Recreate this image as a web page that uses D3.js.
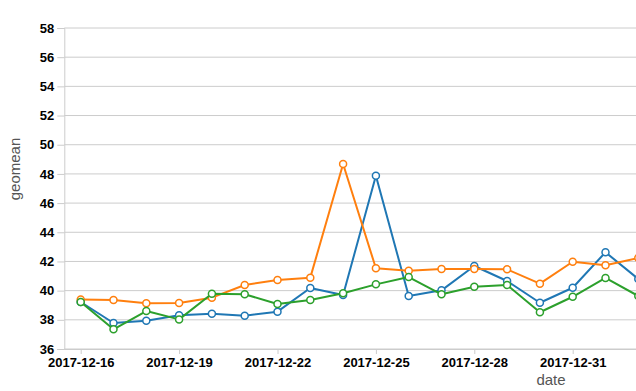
<!DOCTYPE html>
<html>
<head>
<meta charset="utf-8">
<script src="https://cdn.jsdelivr.net/npm/d3@7"></script>
<style>
  html, body { margin: 0; padding: 0; background: #fff; overflow: hidden; }
  svg { display: block; font-family: "Liberation Sans", Arial, sans-serif; }
</style>
</head>
<body>
<svg id="chart" width="636" height="391"></svg>
<script>
// ---- data ----
const dates = ["2017-12-16","2017-12-17","2017-12-18","2017-12-19","2017-12-20","2017-12-21",
  "2017-12-22","2017-12-23","2017-12-24","2017-12-25","2017-12-26","2017-12-27","2017-12-28",
  "2017-12-29","2017-12-30","2017-12-31","2018-01-01","2018-01-02"];
const blueValues   = [39.22, 37.78, 37.94, 38.31, 38.42, 38.28, 38.56, 40.18, 39.70, 47.88, 39.63, 40.02, 41.69, 40.66, 39.17, 40.20, 42.63, 40.80];
const orangeValues = [39.40, 39.36, 39.13, 39.15, 39.52, 40.39, 40.73, 40.89, 48.68, 41.53, 41.37, 41.48, 41.48, 41.46, 40.48, 41.98, 41.74, 42.24];
const greenValues  = [39.22, 37.35, 38.60, 38.03, 39.79, 39.75, 39.08, 39.36, 39.82, 40.43, 40.93, 39.75, 40.27, 40.39, 38.52, 39.58, 40.87, 39.63];
const seriesNames  = ["blue", "orange", "green"];
const seriesColors = ["#1f77b4", "#ff7f0e", "#2ca02c"];
const xTickLabels  = ["2017-12-16","2017-12-19","2017-12-22","2017-12-25","2017-12-28","2017-12-31"];
const yTicks       = [36, 38, 40, 42, 44, 46, 48, 50, 52, 54, 56, 58];
const xTitle = "date";
const yTitle = "geomean";

// ---- layout ----
const parse = d3.utcParse("%Y-%m-%d");
const fmt = d3.utcFormat("%Y-%m-%d");
const dayMs = 864e5;
const plotLeft = 64.3, plotTop = 28, plotBottom = 349, dayPx = 32.8;
const firstDate = parse(dates[0]);
const lastDate = parse(dates[dates.length - 1]);
const x = d3.scaleUtc()
  .domain([new Date(+firstDate - dayMs / 2), new Date(+lastDate + dayMs / 2)])
  .range([plotLeft, plotLeft + dayPx * dates.length]);
const y = d3.scaleLinear().domain([36, 58]).range([plotBottom, plotTop]);

const svg = d3.select("#chart");
const plotRight = 636;

// grid
svg.append("g").selectAll("line").data(yTicks).join("line")
  .attr("x1", plotLeft).attr("x2", plotRight)
  .attr("y1", d => y(d)).attr("y2", d => y(d))
  .attr("stroke", "#cccccc").attr("stroke-width", 1);

// y axis
const yAxis = svg.append("g").attr("transform", `translate(${plotLeft},0)`)
  .call(d3.axisLeft(y).tickValues(yTicks).tickSize(7).tickPadding(3));
yAxis.select(".domain").attr("stroke", "#cccccc");
yAxis.selectAll(".tick line").attr("stroke", "#cccccc");
yAxis.selectAll(".tick text").attr("fill", "#000").attr("font-size", 13).attr("font-weight", "bold")
  .attr("font-family", "Liberation Sans, Arial, sans-serif");

// x axis
const xAxis = svg.append("g").attr("transform", `translate(0,${plotBottom})`)
  .call(d3.axisBottom(x).tickValues(xTickLabels.map(parse)).tickFormat(fmt).tickSize(5).tickPadding(4).tickSizeOuter(0));
xAxis.select(".domain").attr("stroke", "#cccccc");
xAxis.selectAll(".tick line").attr("stroke", "#cccccc");
xAxis.selectAll(".tick text").attr("fill", "#000").attr("font-size", 13).attr("font-weight", "bold")
  .attr("font-family", "Liberation Sans, Arial, sans-serif");

// titles
svg.append("text").attr("x", 551).attr("y", 385).attr("text-anchor", "middle")
  .attr("font-size", 15).attr("fill", "#555").text(xTitle);
svg.append("text").attr("transform", "translate(19.5,169) rotate(-90)").attr("text-anchor", "middle")
  .attr("font-size", 15).attr("fill", "#555").text(yTitle);

// series
const allSeries = [blueValues, orangeValues, greenValues];
const line = d3.line().x((d, i) => x(parse(dates[i]))).y(d => y(d));
allSeries.forEach((vals, si) => {
  const g = svg.append("g").attr("class", "series-" + seriesNames[si]);
  g.append("path").datum(vals).attr("d", line)
    .attr("fill", "none").attr("stroke", seriesColors[si]).attr("stroke-width", 2)
    .attr("stroke-linejoin", "round");
  g.selectAll("circle").data(vals).join("circle")
    .attr("cx", (d, i) => x(parse(dates[i]))).attr("cy", d => y(d)).attr("r", 3.5)
    .attr("fill", "#fff").attr("stroke", seriesColors[si]).attr("stroke-width", 1.5);
});
</script>
</body>
</html>
